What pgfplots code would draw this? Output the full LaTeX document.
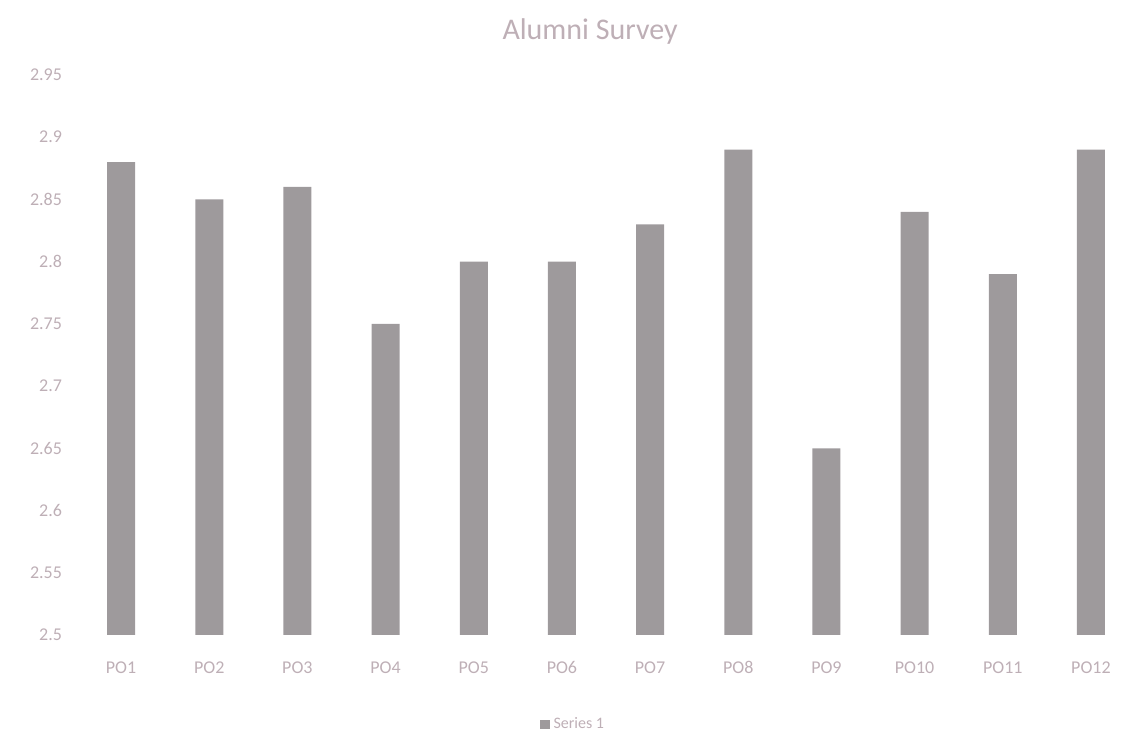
\documentclass[border=0pt]{standalone}
\usepackage{pgfplots}
\pgfplotsset{compat=1.18}
\usepackage{fontspec}
\setmainfont{Carlito}
\definecolor{bar}{RGB}{158,154,156}
\definecolor{txt}{RGB}{190,175,182}
\begin{document}
\begin{tikzpicture}[x=0.5pt,y=0.5pt]
\path[use as bounding box] (0,0) rectangle (1139,742);
\begin{axis}[
  at={(77*0.5pt,107*0.5pt)}, anchor=south west,
  scale only axis, width=529pt, height=280pt,
  ymin=2.5, ymax=2.95, ytick={2.5,2.55,...,2.95},
  xmin=-0.5, xmax=11.5, xtick=data,
  xticklabels={PO1,PO2,PO3,PO4,PO5,PO6,PO7,PO8,PO9,PO10,PO11,PO12},
  axis line style={draw=none}, major tick length=0pt,
  /pgf/number format/assume math mode=true,
  /pgf/number format/.cd, fixed, precision=2, /pgfplots/.cd,
  yticklabel style={font=\fontsize{9}{10}\selectfont, text=txt, xshift=-4pt},
  xticklabel style={font=\fontsize{9}{10}\selectfont, text=txt, text height=1.6ex, text depth=0.3ex, anchor=north, yshift=-8pt},
  title={Alumni Survey},
  title style={font=\fontsize{15}{17}\selectfont, text=txt, at={(0.485,1)}, yshift=6pt},
  legend style={at={(0.47,-0.16)}, anchor=center, draw=none, fill=none,
    font=\fontsize{8}{9}\selectfont, text=txt},
  legend image code/.code={\fill[bar] (0cm,-0.08cm) rectangle (0.16cm,0.08cm);},
]
\addplot[ybar, bar width=14pt, fill=bar, draw=none] coordinates {
(0,2.88) (1,2.85) (2,2.86) (3,2.75) (4,2.80) (5,2.80)
(6,2.83) (7,2.89) (8,2.65) (9,2.84) (10,2.79) (11,2.89)};
\addlegendentry{Series 1}
\end{axis}
\end{tikzpicture}
\end{document}
